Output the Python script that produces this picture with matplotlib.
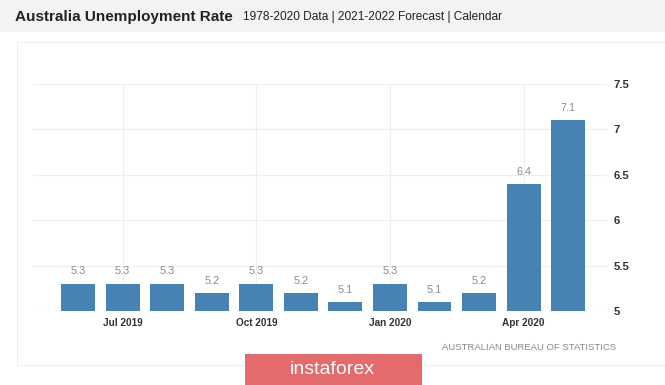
import numpy as np
import matplotlib.pyplot as plt
from matplotlib.patches import Rectangle

months = ['Jun 2019', 'Jul 2019', 'Aug 2019', 'Sep 2019', 'Oct 2019', 'Nov 2019',
          'Dec 2019', 'Jan 2020', 'Feb 2020', 'Mar 2020', 'Apr 2020', 'May 2020']
rate = [5.3, 5.3, 5.3, 5.2, 5.3, 5.2, 5.1, 5.3, 5.1, 5.2, 6.4, 7.1]
tick_idx = [1, 4, 7, 10]
yticks = [5, 5.5, 6, 6.5, 7, 7.5]
ytick_labels = ['5', '5.5', '6', '6.5', '7', '7.5']

font = ['Liberation Sans', 'DejaVu Sans']

fig = plt.figure(figsize=(6.65, 3.85), dpi=100)
fig.patch.set_facecolor('white')

# header band
fig.patches.append(Rectangle((0, 1 - 32/385), 1, 32/385, transform=fig.transFigure,
                             facecolor='#f3f3f3', edgecolor='none', zorder=0))
fig.text(15/665, 1 - 17/385, 'Australia Unemployment Rate', fontsize=11, fontweight='bold',
         family=font, color='#222222', va='center', ha='left')
fig.text(243/665, 1 - 17/385, '1978-2020 Data | 2021-2022 Forecast | Calendar', fontsize=8.6,
         family=font, color='#222222', va='center', ha='left')

# panel border
fig.patches.append(Rectangle((17/665, 1 - 365/385), 660/665, 323/385, transform=fig.transFigure,
                             facecolor='none', edgecolor='#eeeeee', lw=0.8, zorder=0))

ax = fig.add_axes([33/665, 1 - 311/385, 574/665, 227/385])
x = np.arange(len(rate))
ax.bar(x, [r - 5 for r in rate], bottom=5, width=0.76, color='#4682b4', zorder=3)
for xi, r in zip(x, rate):
    ax.text(xi, r + 0.08, f'{r}', ha='center', va='bottom', fontsize=7.8, color='#8a8a8a',
            family=font)

ax.set_ylim(5, 7.5)
ax.set_xlim(-1.01, 11.87)
ax.set_yticks(yticks)
ax.set_yticklabels(ytick_labels)
ax.yaxis.tick_right()
ax.set_xticks(tick_idx)
ax.set_xticklabels([months[i] for i in tick_idx])
ax.tick_params(axis='y', length=0, pad=5, labelcolor='#333333')
ax.tick_params(axis='x', length=0, pad=5, labelcolor='#333333')
for lbl in ax.get_xticklabels():
    lbl.set_fontweight('bold')
    lbl.set_family(font)
    lbl.set_fontsize(7.2)
for lbl in ax.get_yticklabels():
    lbl.set_fontweight('bold')
    lbl.set_family(font)
    lbl.set_fontsize(8.2)
ax.grid(True, color='#eeeeee', lw=0.8, zorder=0)
for s in ax.spines.values():
    s.set_visible(False)

fig.text(616/665, 1 - 348/385, 'AUSTRALIAN BUREAU OF STATISTICS', fontsize=6.8, color='#888888',
         family=font, ha='right', va='center')

# watermark
fig.patches.append(Rectangle((245/665, 0), 177/665, 31/385, transform=fig.transFigure,
                             facecolor='#e36b6b', edgecolor='none', zorder=5))
fig.text(332/665, 15/385, 'instaforex', fontsize=14, color='white', ha='center', va='center',
         family=font, zorder=6)

fig.savefig('out.png', dpi=100)
